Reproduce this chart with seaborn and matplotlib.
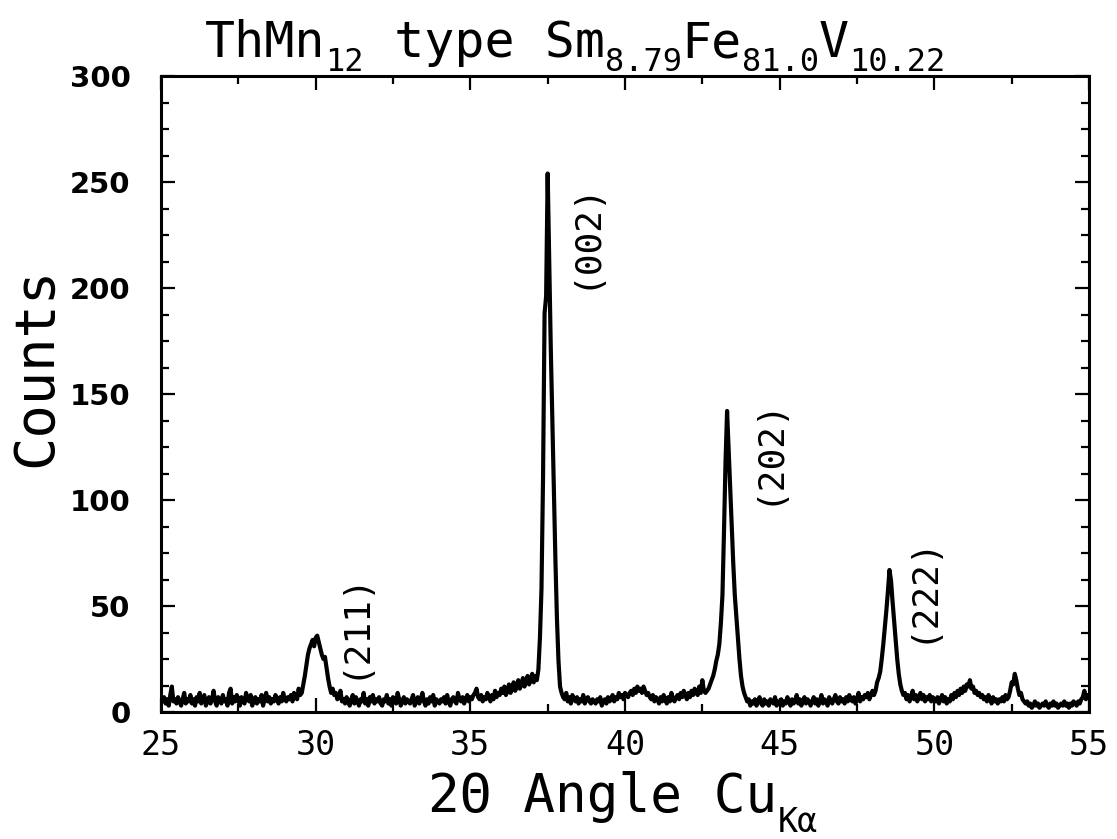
import numpy as np
import matplotlib
matplotlib.use("Agg")
import matplotlib.pyplot as plt
import seaborn as sns
from matplotlib.ticker import MultipleLocator

# ---------------- data ----------------
angle_start = 25.0
angle_step = 0.05
counts = [
    6,
    5, 7, 4, 6, 3, 8, 12, 5, 6, 4, 7, 5, 3, 6, 9, 4, 6, 5, 8, 4,
    6, 3, 7, 5, 9, 4, 6, 8, 3, 5, 7, 4, 6, 10, 5, 3, 7, 6, 4, 8,
    5, 6, 3, 9, 11, 4, 7, 5, 8, 6, 3, 7, 5, 4, 9, 6, 5, 8, 3, 6,
    7, 4, 6, 5, 8, 3, 6, 9, 5, 7, 4, 6, 5, 8, 6, 4, 7, 5, 9, 6,
    5, 7, 6, 8, 5, 9, 7, 6, 11, 8, 9, 13, 17, 22, 27, 30, 32, 34, 31, 35,
    36, 33, 30, 27, 25, 26, 21, 16, 12, 9, 11, 8, 9, 6, 7, 10, 5, 6, 4, 7,
    5, 3, 6, 8, 4, 7, 5, 3, 6, 5, 9, 4, 6, 3, 7, 5, 8, 4, 6, 5,
    7, 4, 3, 6, 5, 8, 4, 6, 3, 7, 5, 4, 9, 6, 3, 5, 7, 4, 6, 5,
    4, 6, 8, 3, 5, 7, 4, 6, 9, 5, 3, 6, 4, 7, 5, 8, 3, 6, 5, 4,
    6, 5, 7, 4, 8, 5, 3, 6, 7, 5, 4, 9, 6, 5, 7, 4, 6, 8, 5, 7,
    6, 8, 9, 11, 7, 6, 8, 5, 7, 6, 9, 7, 5, 8, 6, 10, 7, 9, 8, 11,
    9, 12, 8, 10, 13, 9, 11, 14, 10, 12, 15, 11, 13, 16, 12, 14, 17, 13, 15, 18,
    14, 17, 15, 20, 35, 58, 110, 188, 196, 254, 212, 172, 138, 105, 72, 44, 24, 12, 9, 7,
    6, 9, 5, 7, 4, 8, 6, 5, 7, 4, 6, 5, 8, 4, 6, 7, 5, 4, 6, 5,
    4, 6, 5, 7, 3, 5, 6, 4, 7, 5, 6, 8, 5, 7, 6, 9, 7, 8, 6, 9,
    8, 7, 9, 10, 8, 11, 9, 12, 10, 11, 9, 12, 10, 8, 9, 7, 6, 8, 5, 7,
    6, 4, 7, 5, 8, 6, 4, 7, 5, 9, 6, 5, 7, 8, 6, 9, 7, 10, 8, 6,
    9, 7, 10, 8, 11, 9, 8, 12, 9, 15, 10, 9, 10, 11, 13, 15, 17, 20, 24, 27,
    32, 42, 55, 85, 118, 142, 124, 105, 88, 70, 55, 45, 35, 25, 17, 12, 9, 7, 5, 6,
    3, 5, 4, 6, 3, 5, 7, 4, 3, 6, 4, 5, 3, 6, 5, 4, 7, 3, 5, 4,
    6, 3, 5, 4, 7, 5, 3, 6, 4, 5, 8, 4, 6, 3, 5, 7, 4, 6, 5, 3,
    5, 7, 4, 6, 3, 5, 8, 4, 6, 5, 3, 7, 5, 4, 6, 8, 5, 4, 7, 5,
    6, 4, 7, 5, 8, 6, 5, 7, 4, 6, 9, 5, 7, 6, 8, 7, 9, 6, 8, 10,
    8, 10, 14, 16, 19, 25, 32, 40, 48, 57, 67, 62, 52, 43, 34, 25, 18, 13, 10, 8,
    9, 6, 8, 5, 7, 10, 6, 8, 5, 7, 9, 6, 8, 5, 7, 6, 8, 5, 7, 6,
    5, 7, 4, 6, 8, 5, 7, 4, 6, 5, 8, 6, 9, 7, 10, 8, 11, 9, 12, 10,
    13, 12, 15, 11, 12, 9, 10, 8, 9, 7, 8, 6, 7, 5, 8, 6, 4, 7, 5, 6,
    4, 6, 5, 7, 5, 8, 6, 7, 10, 14, 13, 18, 15, 11, 8, 9, 6, 5, 4, 5,
    3, 4, 2, 3, 5, 3, 4, 2, 3, 4, 3, 5, 3, 2, 4, 3, 5, 3, 4, 2,
    3, 4, 3, 5, 3, 4, 2, 4, 3, 5, 4, 3, 5, 4, 6, 7, 10, 6, 8, 7,
]
angles = angle_start + angle_step * np.arange(len(counts))

peak_labels = ["(211)", "(002)", "(202)", "(222)"]
peak_label_x = [31.21, 38.68, 44.62, 49.60]
peak_label_y = [41.0, 225.0, 123.5, 58.0]

x_ticks = [25, 30, 35, 40, 45, 50, 55]
y_ticks = [0, 50, 100, 150, 200, 250, 300]

# (text, is_subscript) runs for the title and x label
title_runs = [("ThMn", False), ("12", True), (" type Sm", False), ("8.79", True),
              ("Fe", False), ("81.0", True), ("V", False), ("10.22", True)]
xlabel_runs = [("2Θ Angle Cu", False), ("Kα", True)]
ylabel_text = "Counts"

# ---------------- style ----------------
sns.set_style("ticks")
plt.rcParams["font.family"] = ["DejaVu Sans Mono", "DejaVu Sans"]
plt.rcParams["text.color"] = "black"
plt.rcParams["xtick.color"] = "black"
plt.rcParams["ytick.color"] = "black"
plt.rcParams["axes.edgecolor"] = "black"

W, H = 1117, 839
DPI = 100
fig = plt.figure(figsize=(W / DPI, H / DPI), dpi=DPI)
ax = fig.add_axes([161 / W, 1 - 712 / H, 928 / W, 636 / H])

sns.lineplot(x=angles, y=counts, ax=ax, color="black", linewidth=3.0,
             estimator=None, sort=False)

ax.set_xlim(25, 55)
ax.set_ylim(0, 300)
ax.set_xticks(x_ticks)
ax.set_yticks(y_ticks)
ax.xaxis.set_minor_locator(MultipleLocator(2.5))
ax.yaxis.set_minor_locator(MultipleLocator(12.5))
ax.tick_params(which="both", direction="in", top=True, right=True, width=1.6,
               colors="black")
ax.tick_params(which="major", length=10)
ax.tick_params(which="minor", length=6)
ax.tick_params(axis="x", which="major", pad=12)
ax.tick_params(axis="y", which="major", pad=22)
for lab in ax.get_xticklabels():
    lab.set_fontfamily("DejaVu Sans Mono")
    lab.set_fontsize(24)
for lab in ax.get_yticklabels():
    lab.set_fontfamily("DejaVu Sans")
    lab.set_fontsize(21)
    lab.set_fontweight("semibold")
for s in ax.spines.values():
    s.set_linewidth(2.2)
    s.set_color("black")
ax.set_xlabel("")
ax.set_ylabel("")

for t, x, y in zip(peak_labels, peak_label_x, peak_label_y):
    ax.text(x, y, t, rotation=90, ha="center", va="center", fontsize=26,
            family="DejaVu Sans Mono")


def place_runs(x_px, base_px, runs, main_pt, sub_pt, sub_drop_px):
    """Write monospace runs left to right; subscripts smaller and lowered."""
    adv = 0.602  # DejaVu Sans Mono advance per em
    x = x_px
    for text, is_sub in runs:
        size = sub_pt if is_sub else main_pt
        y = base_px + (sub_drop_px if is_sub else 0)
        fig.text(x / W, 1 - y / H, text, ha="left", va="baseline", fontsize=size,
                 family="DejaVu Sans Mono")
        x += len(text) * adv * size * DPI / 72


place_runs(205, 57, title_runs, 36, 23, 14)
place_runs(428, 812, xlabel_runs, 38, 24, 20)
fig.text(36 / W, 1 - 367 / H, ylabel_text, ha="center", va="center", rotation=90,
         fontsize=40, family="DejaVu Sans Mono")

fig.savefig("out.png", dpi=DPI, facecolor="white")
